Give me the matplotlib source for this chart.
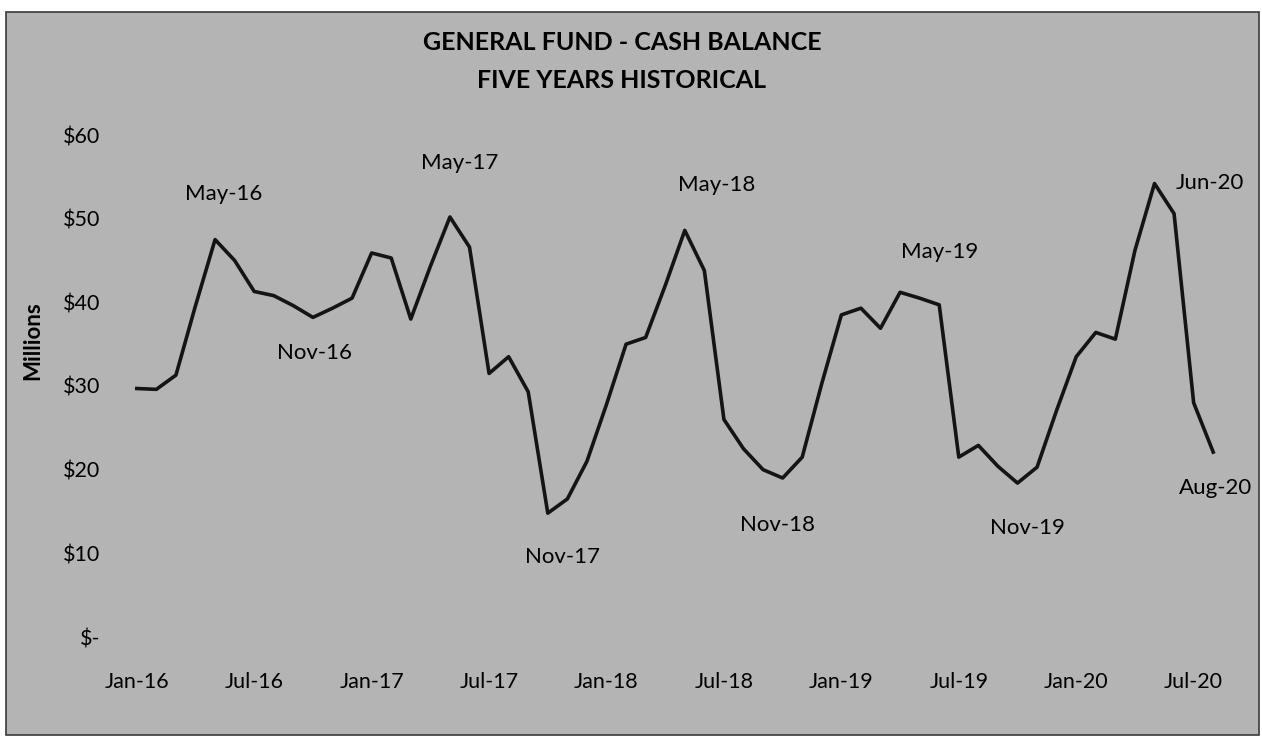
import matplotlib.pyplot as plt
from matplotlib.patches import Rectangle
from matplotlib.ticker import FixedLocator, FuncFormatter

plt.rcParams['font.family'] = ['Lato', 'DejaVu Sans']

# monthly cash balance, $ millions, Jan-16 .. Aug-20
months = ['Jan-16', 'Feb-16', 'Mar-16', 'Apr-16', 'May-16', 'Jun-16', 'Jul-16', 'Aug-16',
          'Sep-16', 'Oct-16', 'Nov-16', 'Dec-16',
          'Jan-17', 'Feb-17', 'Mar-17', 'Apr-17', 'May-17', 'Jun-17', 'Jul-17', 'Aug-17',
          'Sep-17', 'Oct-17', 'Nov-17', 'Dec-17',
          'Jan-18', 'Feb-18', 'Mar-18', 'Apr-18', 'May-18', 'Jun-18', 'Jul-18', 'Aug-18',
          'Sep-18', 'Oct-18', 'Nov-18', 'Dec-18',
          'Jan-19', 'Feb-19', 'Mar-19', 'Apr-19', 'May-19', 'Jun-19', 'Jul-19', 'Aug-19',
          'Sep-19', 'Oct-19', 'Nov-19', 'Dec-19',
          'Jan-20', 'Feb-20', 'Mar-20', 'Apr-20', 'May-20', 'Jun-20', 'Jul-20', 'Aug-20']
balance = [29.7, 29.6, 31.3, 39.6, 47.5, 45.0, 41.3, 40.8, 39.6, 38.2, 39.3, 40.5,
           45.9, 45.3, 38.0, 44.3, 50.2, 46.6, 31.5, 33.5, 29.3, 14.8, 16.5, 21.0,
           27.8, 35.0, 35.8, 42.0, 48.6, 43.8, 26.0, 22.5, 20.0, 19.0, 21.5, 30.3,
           38.5, 39.3, 36.9, 41.2, 40.5, 39.7, 21.5, 22.9, 20.4, 18.4, 20.3, 27.1,
           33.5, 36.4, 35.6, 46.2, 54.2, 50.6, 28.0, 22.1]

# labelled months and where the label sits relative to the point (pixels)
label_months = ['May-16', 'Nov-16', 'May-17', 'Nov-17', 'May-18',
                'Nov-18', 'May-19', 'Nov-19', 'Jun-20', 'Aug-20']
label_offsets = [(9, 46), (-18, -45), (10, 54), (-5, -58), (32, 45),
                 (-25, -68), (20, 46), (-10, -61), (36, 31), (2, -36)]

fig = plt.figure(figsize=(12.62, 7.38), dpi=100, facecolor='white')
fig.patches.append(Rectangle((6 / 1262, 1 - 735 / 738), 1253 / 1262, 723 / 738,
                             transform=fig.transFigure, facecolor='#b4b4b4',
                             edgecolor='#3a3a3a', linewidth=1.2, zorder=-10))

ax = fig.add_axes([127 / 1262, 1 - 637 / 738, 1096 / 1262, 502 / 738])
ax.set_facecolor('none')
ax.set_zorder(5)

x = list(range(len(balance)))
ax.plot(x, balance, color='#141414', linewidth=2.6, solid_joinstyle='round')

for name, (dx, dy) in zip(label_months, label_offsets):
    i = months.index(name)
    ax.annotate(name, xy=(i, balance[i]), xytext=(dx, dy), textcoords='offset pixels',
                ha='center', va='center', fontsize=16, color='black')

ax.set_xlim(-0.5, len(balance) - 0.5)
ax.set_ylim(0, 60)

tick_idx = list(range(0, len(months), 6))
ax.xaxis.set_major_locator(FixedLocator(tick_idx))
ax.set_xticklabels([months[i] for i in tick_idx])
ax.set_yticks(range(0, 61, 10))
ax.yaxis.set_major_formatter(FuncFormatter(lambda v, p: '$-' if v == 0 else f'${v:.0f}'))
ax.tick_params(axis='both', length=0, labelsize=15.5)
ax.tick_params(axis='x', pad=25)
ax.tick_params(axis='y', pad=19)
for s in ax.spines.values():
    s.set_visible(False)

ax.set_ylabel('Millions', fontsize=16, fontweight='bold')
ax.yaxis.set_label_coords(-84 / 1096, 0.59)

fig.text(622 / 1262, 1 - 43 / 738, 'GENERAL FUND - CASH BALANCE', ha='center', va='center',
         fontsize=18, fontweight='bold')
fig.text(622 / 1262, 1 - 80 / 738, 'FIVE YEARS HISTORICAL', ha='center', va='center',
         fontsize=18, fontweight='bold')

fig.savefig('out.png', dpi=100, facecolor=fig.get_facecolor())
